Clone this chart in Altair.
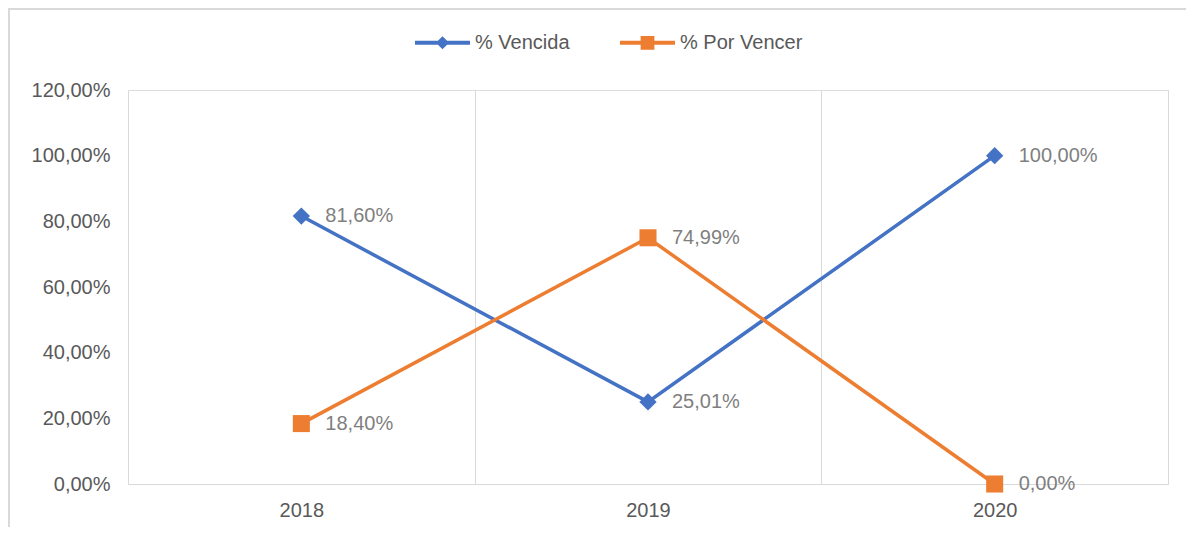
import altair as alt
import pandas as pd

years = ["2018", "2019", "2020"]
vencida = [0.8160, 0.2501, 1.0000]
por_vencer = [0.1840, 0.7499, 0.0000]
series = ["% Vencida", "% Por Vencer"]
colors = ["#4472C4", "#ED7D31"]
y_ticks = [0, 0.2, 0.4, 0.6, 0.8, 1.0, 1.2]

rows = []
for s, vals in zip(series, [vencida, por_vencer]):
    for yr, v in zip(years, vals):
        rows.append({"anio": yr, "serie": s, "valor": v})
df = pd.DataFrame(rows)

FONT = "Liberation Sans"
pct_expr = "replace(format(datum.value, '.2%'), '.', ',')"

x_enc = alt.X(
    "anio:N",
    sort=years,
    scale=alt.Scale(type="band", paddingInner=0, paddingOuter=0),
    axis=alt.Axis(
        title=None, labelAngle=0, tickBand="extent", grid=True, gridColor="#D9D9D9",
        gridWidth=1, ticks=False, domain=False,
        labelFontSize=20, labelColor="#595959", labelPadding=16, labelFont=FONT,
    ),
)
y_enc = alt.Y(
    "valor:Q",
    scale=alt.Scale(domain=[0, 1.2], nice=False),
    axis=alt.Axis(
        title=None, values=y_ticks, labelExpr=pct_expr, grid=True, gridColor="#D9D9D9",
        gridOpacity={"condition": {"test": "datum.value === 0", "value": 1}, "value": 0},
        domain=False, ticks=False, labelPadding=18, labelFontSize=20,
        labelColor="#595959", labelFont=FONT,
    ),
)
color_scale = alt.Scale(domain=series, range=colors)

legend_paths = [
    "M-1,-0.07H1V0.07H-1Z M0,-0.24L0.24,0L0,0.24L-0.24,0Z",
    "M-1,-0.07H1V0.07H-1Z M-0.25,-0.25H0.25V0.25H-0.25Z",
]
leg = alt.Legend(
    title=None, orient="none", legendX=287, legendY=-75, direction="horizontal",
    symbolSize=3025, symbolStrokeWidth=0, symbolOpacity=1, labelFontSize=20,
    labelColor="#595959", labelFont=FONT, labelOffset=5, columnPadding=50,
)
color_enc = alt.Color("serie:N", scale=color_scale, legend=leg)

base = alt.Chart(df).encode(x=x_enc, y=y_enc)

lines = base.mark_line(strokeWidth=3.5).encode(color=color_enc)

pts_v = base.transform_filter(alt.datum.serie == series[0]).mark_point(
    filled=True, shape="diamond", size=300, opacity=1
).encode(color=color_enc)

pts_p = base.transform_filter(alt.datum.serie == series[1]).mark_point(
    filled=True, shape="square", size=290, opacity=1
).encode(color=color_enc)

labels = base.transform_calculate(
    etiqueta="replace(format(datum.valor, '.2%'), '.', ',')"
).mark_text(align="left", baseline="middle", dx=24, fontSize=20, color="#7F7F7F", font=FONT).encode(
    text="etiqueta:N"
)

legend_layer = base.mark_point(filled=True, opacity=0).encode(
    color=color_enc,
    shape=alt.Shape("serie:N", scale=alt.Scale(domain=series, range=legend_paths), legend=leg),
)

# chart-area frame (decoration, like the Excel chart border)
frame = alt.Chart(df).mark_rect(fill="transparent", stroke="#D9D9D9", strokeWidth=2).encode(
    x=alt.value(-119), x2=alt.value(1300), y=alt.value(-81), y2=alt.value(700)
)

chart = alt.layer(frame, legend_layer, lines, pts_v, pts_p, labels).properties(
    width=1040,
    height=394,
    padding={"left": 120, "top": 82, "right": 18, "bottom": 43},
    autosize=alt.AutoSizeParams(type="none"),
).configure_view(strokeWidth=0, stroke="transparent").configure(font=FONT)

chart.save("out.html", embed_options={"renderer": "svg", "actions": False})
